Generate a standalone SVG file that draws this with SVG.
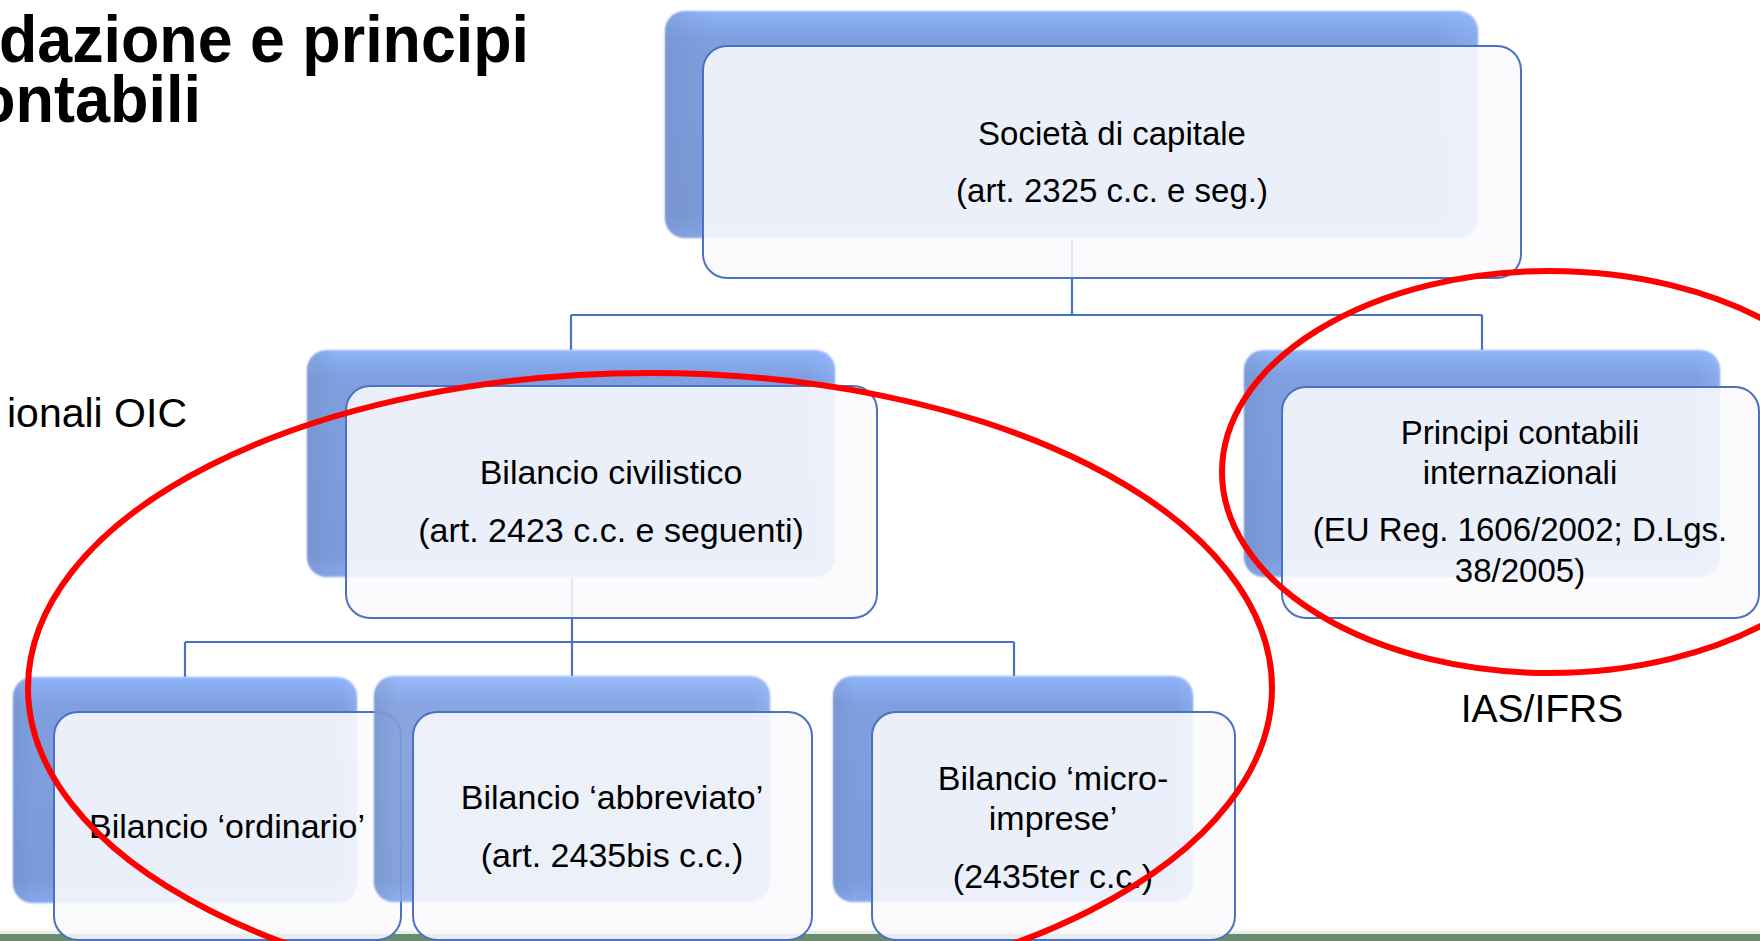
<svg xmlns="http://www.w3.org/2000/svg" width="1760" height="941" viewBox="0 0 1760 941">
<defs>
<linearGradient id="backGrad" x1="0" y1="0" x2="0" y2="1">
<stop offset="0" stop-color="#8fb4fa"/>
<stop offset="0.12" stop-color="#7f9fe0"/>
<stop offset="0.9" stop-color="#7b9bd9"/>
<stop offset="1" stop-color="#86a8ec"/>
</linearGradient>
<linearGradient id="backSide" x1="0" y1="0" x2="1" y2="0">
<stop offset="0" stop-color="#6f88bb" stop-opacity="0.35"/>
<stop offset="0.06" stop-color="#6f88bb" stop-opacity="0"/>
<stop offset="0.95" stop-color="#9fc0ff" stop-opacity="0"/>
<stop offset="1" stop-color="#9fc0ff" stop-opacity="0.35"/>
</linearGradient>
<filter id="soft" x="-5%" y="-5%" width="110%" height="110%">
<feGaussianBlur stdDeviation="1.3"/>
</filter>
<style>
.back{fill:url(#backGrad);filter:url(#soft)}
.side{fill:url(#backSide)}
.front{fill:#fafafd;fill-opacity:0.88;stroke:#4a72c0;stroke-width:2}
.conn{fill:none;stroke:#4a72c0;stroke-width:2.2}
.t{font-family:"Liberation Sans",Arial,sans-serif;fill:#000;text-anchor:middle}
.t33{font-size:33px}
.t34{font-size:34px}
.ring{fill:none;stroke:#ff0000;stroke-width:6}
</style>
</defs>
<rect x="0" y="0" width="1760" height="941" fill="#ffffff"/>
<rect x="0" y="931" width="1760" height="3" fill="#e9eee9"/>
<rect x="0" y="934" width="1760" height="7" fill="#6b8b6d"/>

<g id="title" font-family="'Liberation Sans',Arial,sans-serif" font-weight="bold" font-size="67" fill="#000">
<text x="-1" y="62" textLength="530" lengthAdjust="spacingAndGlyphs">dazione e principi</text>
<text x="201" y="122" text-anchor="end" textLength="224" lengthAdjust="spacingAndGlyphs">ontabili</text>
</g>

<g id="connectors">
<path class="conn" d="M1072 238 V315 M571 315 H1482 M571 315 V350 M1482 315 V350"/>
<path class="conn" d="M572 577 V642 M185 642 H1014 M185 642 V677 M572 642 V676 M1014 642 V676"/>
</g>

<g id="node-societa">
<rect class="back" x="665" y="11" width="813" height="227" rx="20"/>
<rect class="side" x="665" y="11" width="813" height="227" rx="20"/>
<rect class="front" x="703" y="46" width="818" height="232" rx="24"/>
<text class="t t33" x="1112" y="145">Società di capitale</text>
<text class="t t33" x="1112" y="202">(art. 2325 c.c. e seg.)</text>
</g>

<g id="node-civilistico">
<rect class="back" x="307" y="350" width="528" height="227" rx="20"/>
<rect class="side" x="307" y="350" width="528" height="227" rx="20"/>
<rect class="front" x="346" y="386" width="531" height="232" rx="24"/>
<text class="t t34" x="611" y="484">Bilancio civilistico</text>
<text class="t t34" x="611" y="542">(art. 2423 c.c. e seguenti)</text>
</g>

<g id="node-internazionali">
<rect class="back" x="1244" y="350" width="476" height="227" rx="20"/>
<rect class="side" x="1244" y="350" width="476" height="227" rx="20"/>
<rect class="front" x="1282" y="387" width="477" height="231" rx="24"/>
<text class="t t33" x="1520" y="444">Principi contabili</text>
<text class="t t33" x="1520" y="484">internazionali</text>
<text class="t t33" x="1520" y="541">(EU Reg. 1606/2002; D.Lgs.</text>
<text class="t t33" x="1520" y="582">38/2005)</text>
</g>

<g id="node-ordinario">
<rect class="back" x="13" y="677" width="344" height="226" rx="20"/>
<rect class="side" x="13" y="677" width="344" height="226" rx="20"/>
<rect class="front" x="54" y="712" width="347" height="228" rx="24"/>
<text class="t t34" x="227" y="838">Bilancio ‘ordinario’</text>
</g>

<g id="node-abbreviato">
<rect class="back" x="374" y="676" width="396" height="226" rx="20" opacity="0.92"/>
<rect class="side" x="374" y="676" width="396" height="226" rx="20"/>
<rect class="front" x="413" y="712" width="399" height="228" rx="24"/>
<text class="t t34" x="612" y="809">Bilancio ‘abbreviato’</text>
<text class="t t34" x="612" y="867">(art. 2435bis c.c.)</text>
</g>

<g id="node-micro">
<rect class="back" x="833" y="676" width="360" height="226" rx="20"/>
<rect class="side" x="833" y="676" width="360" height="226" rx="20"/>
<rect class="front" x="872" y="712" width="363" height="228" rx="24"/>
<text class="t t34" x="1053" y="790">Bilancio ‘micro-</text>
<text class="t t34" x="1053" y="830">imprese’</text>
<text class="t t34" x="1053" y="888">(2435ter c.c.)</text>
</g>

<g id="labels" font-family="'Liberation Sans',Arial,sans-serif" fill="#000">
<text x="187" y="427" font-size="41" text-anchor="end">ionali OIC</text>
<text x="1542" y="722" font-size="39" text-anchor="middle">IAS/IFRS</text>
</g>

<g id="highlights">
<ellipse class="ring" cx="650" cy="688" rx="622" ry="315"/>
<ellipse class="ring" cx="1550" cy="472" rx="328" ry="201"/>
</g>
</svg>
